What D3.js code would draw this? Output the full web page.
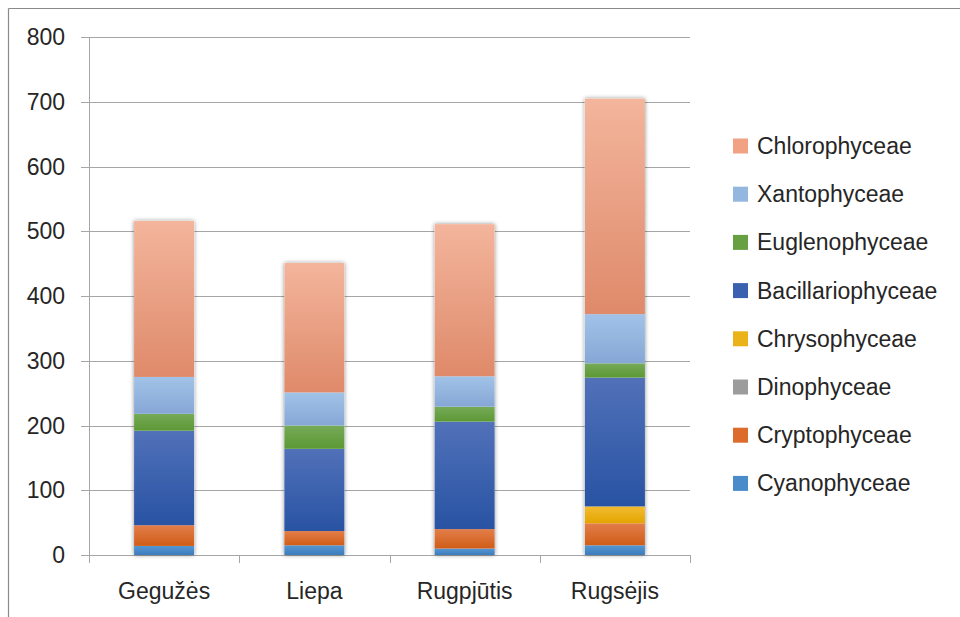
<!DOCTYPE html>
<html><head><meta charset="utf-8">
<script src="https://cdn.jsdelivr.net/npm/d3@7"></script>
<style>
html,body{margin:0;padding:0;background:#fff;}
text{font-family:"Liberation Sans",Arial,sans-serif;}
</style></head>
<body>
<svg id="chart" width="960" height="617"></svg>
<script>
const categories = ["Gegužės", "Liepa", "Rugpjūtis", "Rugsėjis"];
const seriesNames = ["Cyanophyceae", "Cryptophyceae", "Dinophyceae", "Chrysophyceae", "Bacillariophyceae", "Euglenophyceae", "Xantophyceae", "Chlorophyceae"];
const cyanophyceae      = [14, 15, 10, 15];
const cryptophyceae     = [32, 22, 30, 34];
const dinophyceae       = [0, 0, 0, 0];
const chrysophyceae     = [0, 0, 0, 26];
const bacillariophyceae = [146, 127, 166, 199];
const euglenophyceae    = [26, 36, 23, 22];
const xantophyceae      = [57, 51, 47, 76];
const chlorophyceae     = [241, 200, 235, 333];
const yTicks = [0, 100, 200, 300, 400, 500, 600, 700, 800];

const seriesValues = [cyanophyceae, cryptophyceae, dinophyceae, chrysophyceae, bacillariophyceae, euglenophyceae, xantophyceae, chlorophyceae];
const colors = {
  "Cyanophyceae":      ["#5496d2", "#3d7cbc", "#4a8bc9"],
  "Cryptophyceae":     ["#e27e4a", "#d05d17", "#dd6c2c"],
  "Dinophyceae":       ["#ababab", "#8c8c8c", "#9c9c9c"],
  "Chrysophyceae":     ["#f2bb30", "#e4a500", "#eab31a"],
  "Bacillariophyceae": ["#5171b9", "#2853a3", "#3a61b0"],
  "Euglenophyceae":    ["#76aa58", "#5c9834", "#66a043"],
  "Xantophyceae":      ["#a1c3e8", "#86a7d5", "#94b7e0"],
  "Chlorophyceae":     ["#f3b59c", "#df8a6a", "#f0a283"]
};

(function () {
const table = categories.map((c, i) => {
  const row = {cat: c};
  seriesNames.forEach((s, j) => row[s] = seriesValues[j][i]);
  return row;
});

const svg = d3.select("#chart");
const pLeft = 89, pRight = 690, pTop = 37, pBottom = 555;

const x = d3.scaleBand().domain(categories).range([pLeft, pRight]).paddingInner(0.6).paddingOuter(0.3);
const y = d3.scaleLinear().domain([0, 800]).range([pBottom, pTop]);

const defs = svg.append("defs");
seriesNames.forEach((s, i) => {
  const g = defs.append("linearGradient").attr("id", "g" + i).attr("x1", 0).attr("y1", 0).attr("x2", 0).attr("y2", 1);
  g.append("stop").attr("offset", "0%").attr("stop-color", colors[s][0]);
  g.append("stop").attr("offset", "100%").attr("stop-color", colors[s][1]);
});
const f = defs.append("filter").attr("id", "shadow").attr("x", "-20%").attr("y", "-5%").attr("width", "140%").attr("height", "110%");
f.append("feDropShadow").attr("dx", 0).attr("dy", 0).attr("stdDeviation", 2.2).attr("flood-color", "#000").attr("flood-opacity", 0.45);

// frame
svg.append("line").attr("x1", 8.5).attr("x2", 960).attr("y1", 8.5).attr("y2", 8.5).attr("stroke", "#8a8a8a").attr("stroke-width", 1.2);
svg.append("line").attr("x1", 8.5).attr("x2", 8.5).attr("y1", 8.5).attr("y2", 617).attr("stroke", "#8a8a8a").attr("stroke-width", 1.2);

// gridlines
svg.append("g").selectAll("line").data(yTicks).join("line")
  .attr("x1", pLeft - 8).attr("x2", pRight)
  .attr("y1", d => Math.round(y(d)) + 0.5).attr("y2", d => Math.round(y(d)) + 0.5)
  .attr("stroke", "#a6a6a6").attr("stroke-width", 1);

// y labels
svg.append("g").selectAll("text").data(yTicks).join("text")
  .attr("x", 65).attr("y", d => y(d) + 8)
  .attr("text-anchor", "end").attr("font-size", 23).attr("fill", "#262626")
  .text(d => d);

// y axis line
svg.append("line").attr("x1", pLeft + 0.5).attr("x2", pLeft + 0.5).attr("y1", y(800)).attr("y2", pBottom + 8)
  .attr("stroke", "#a6a6a6");

// x ticks
const step = x.step();
const bounds = [pLeft].concat(categories.map(c => x(c) + x.bandwidth() / 2 + step / 2));
svg.append("g").selectAll("line").data(bounds).join("line")
  .attr("x1", d => Math.round(d) + 0.5).attr("x2", d => Math.round(d) + 0.5)
  .attr("y1", pBottom).attr("y2", pBottom + 8)
  .attr("stroke", "#a6a6a6");

// bars
const stack = d3.stack().keys(seriesNames)(table);
const barG = svg.append("g");
categories.forEach((c, ci) => {
  const tot = stack[stack.length - 1][ci][1];
  barG.append("rect").attr("x", x(c)).attr("width", x.bandwidth())
    .attr("y", y(tot)).attr("height", y(0) - y(tot))
    .attr("fill", "#fff").attr("filter", "url(#shadow)");
});
stack.forEach((layer, i) => {
  barG.append("g").selectAll("rect").data(layer).join("rect")
    .attr("x", d => x(d.data.cat)).attr("width", x.bandwidth())
    .attr("y", d => y(d[1])).attr("height", d => Math.max(0, y(d[0]) - y(d[1])))
    .attr("fill", "url(#g" + i + ")");
});

// x labels
svg.append("g").selectAll("text").data(categories).join("text")
  .attr("x", d => x(d) + x.bandwidth() / 2).attr("y", 599)
  .attr("text-anchor", "middle").attr("font-size", 23).attr("fill", "#262626")
  .text(d => d);

// legend
const legendOrder = seriesNames.slice().reverse();
const lg = svg.append("g").selectAll("g").data(legendOrder).join("g")
  .attr("transform", (d, i) => `translate(733, ${146 + i * 48.2})`);
lg.append("rect").attr("x", 0).attr("y", -7.5).attr("width", 15).attr("height", 15)
  .attr("fill", d => colors[d][2]);
lg.append("text").attr("x", 24).attr("y", 8).attr("font-size", 23).attr("fill", "#262626")
  .text(d => d);
})();
</script>
</body></html>
